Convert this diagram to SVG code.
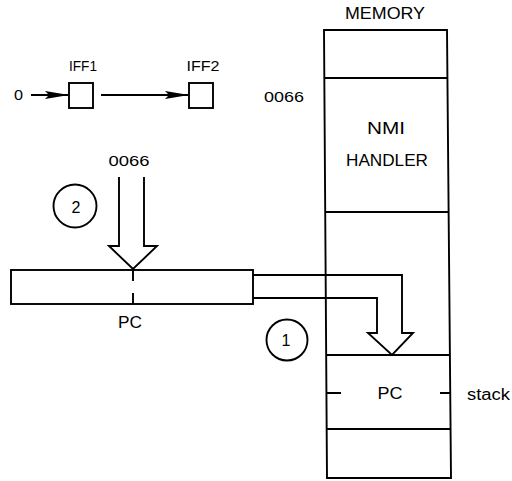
<svg xmlns="http://www.w3.org/2000/svg" width="512" height="481" viewBox="0 0 512 481">
<style>
.l{fill:none;stroke:#000;stroke-width:1.9}
.t{font-family:"Liberation Sans","DejaVu Sans",sans-serif;font-size:15px;fill:#000}
.b{font-size:16px}
.m{text-anchor:middle}
</style>
<defs>
<marker id="ah" viewBox="0 0 24 10" refX="24" refY="5" markerWidth="24" markerHeight="10" markerUnits="userSpaceOnUse" orient="auto">
<path d="M0,1 L24,5 L0,9 L4,5 Z" fill="#000"/>
</marker>
</defs>
<rect width="512" height="481" fill="#fff"/>
<g id="memory">
<path class="l" d="M324,30 L447,30 L451,478 L327,478 Z"/>
<path class="l" d="M324.4,78 H447.4 M325.5,212 H448.6 M326.2,355 H449.8 M326.8,429 H450.4"/>
<text class="t b m" x="385" y="19" textLength="80" lengthAdjust="spacingAndGlyphs">MEMORY</text>
<text class="t" x="264" y="102" textLength="40" lengthAdjust="spacingAndGlyphs">0066</text>
<text class="t b m" x="386" y="134" textLength="38" lengthAdjust="spacingAndGlyphs">NMI</text>
<text class="t b m" x="387" y="166" textLength="82" lengthAdjust="spacingAndGlyphs">HANDLER</text>
</g>
<g id="stack-pc">
<path class="l" d="M327,393 H341 M440,393 H450"/>
<text class="t b m" x="390" y="399" textLength="25" lengthAdjust="spacingAndGlyphs">PC</text>
<text class="t b" x="467" y="400" textLength="43" lengthAdjust="spacingAndGlyphs">stack</text>
</g>
<g id="iff1">
<rect class="l" x="69" y="83" width="24" height="25"/>
<text class="t m" x="83" y="71" textLength="28" lengthAdjust="spacingAndGlyphs">IFF1</text>
</g>
<g id="iff2">
<rect class="l" x="189" y="83" width="24" height="25"/>
<text class="t m" x="203" y="71" textLength="33" lengthAdjust="spacingAndGlyphs">IFF2</text>
</g>
<g id="zero">
<text class="t" x="14" y="100" textLength="9" lengthAdjust="spacingAndGlyphs">0</text>
</g>
<g id="pc-register">
<rect class="l" x="11" y="270" width="242" height="34"/>
<path class="l" d="M133,270 V281 M133,293 V304"/>
<text class="t b m" x="130" y="328" textLength="24" lengthAdjust="spacingAndGlyphs">PC</text>
</g>
<g id="step2">
<circle class="l" cx="75" cy="206" r="21.5"/>
<text class="t b m" x="76" y="213">2</text>
</g>
<g id="step1">
<circle class="l" cx="287" cy="340" r="20.5"/>
<text class="t b m" x="286" y="346">1</text>
</g>
<g id="connectors">
<line class="l" x1="31" y1="95" x2="69" y2="95" marker-end="url(#ah)"/>
<line class="l" x1="101" y1="95" x2="189" y2="95" marker-end="url(#ah)"/>
<text class="t m" x="129" y="166" textLength="41" lengthAdjust="spacingAndGlyphs">0066</text>
<path class="l" d="M119,177 V246 H109 L133,269 L157,246 H144 V177"/>
<path class="l" d="M253,275 H402 V333 H413 L392,355 L368,333 H377 V298 H253"/>
</g>
</svg>
